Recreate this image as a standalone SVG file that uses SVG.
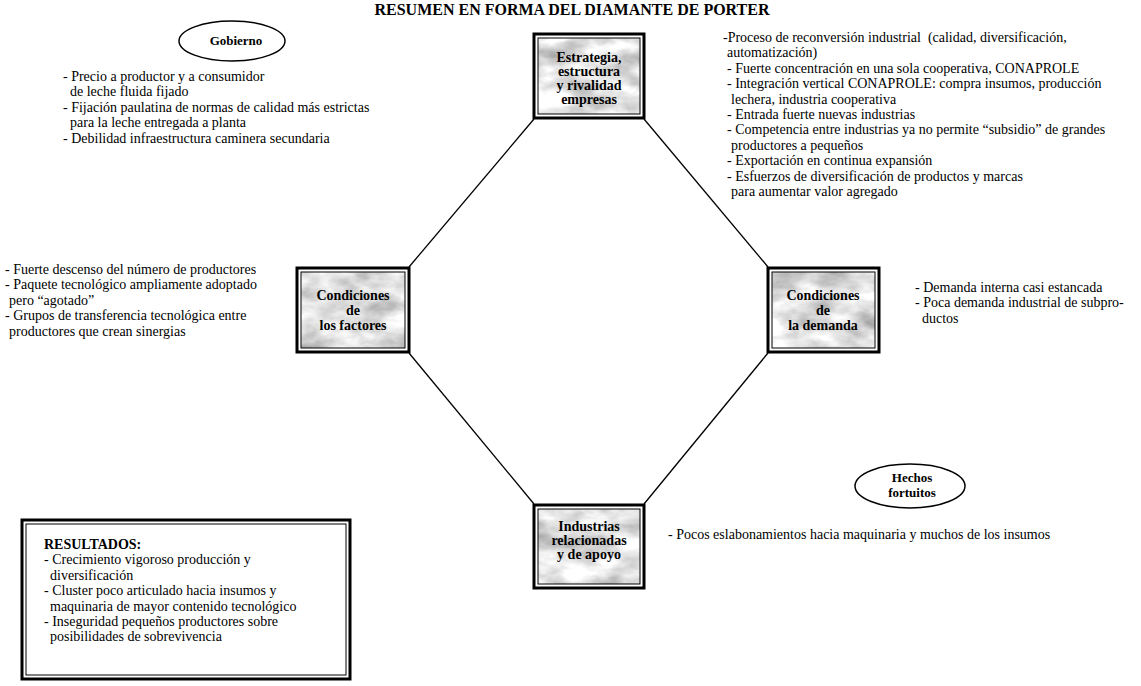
<svg xmlns="http://www.w3.org/2000/svg" width="1141" height="686" viewBox="0 0 1141 686">
  <style>
    .title { font: bold 16px "Liberation Serif", "Times New Roman", serif; fill: #000; }
    .body { font: 14px "Liberation Serif", "Times New Roman", serif; fill: #000; white-space: pre; }
    .head { font: bold 14px "Liberation Serif", "Times New Roman", serif; fill: #000; }
    .node { font: bold 14px "Liberation Serif", "Times New Roman", serif; fill: #000; text-anchor: middle; }
    .oval { font: bold 13px "Liberation Serif", "Times New Roman", serif; fill: #000; text-anchor: middle; }
    .frame { fill: #fff; stroke: #000; stroke-width: 3; }
    .inner { stroke: #000; stroke-width: 1; }
    .edge { stroke: #000; stroke-width: 1.3; fill: none; }
    .ell { fill: #fff; stroke: #000; stroke-width: 1.5; }
  </style>
  <defs>
    <!-- light grey marble texture used inside the diamond boxes -->
    <filter id="marble" x="0" y="0" width="1" height="1" color-interpolation-filters="sRGB">
      <feTurbulence type="fractalNoise" baseFrequency="0.025 0.045" numOctaves="4" seed="7" result="n"/>
      <feColorMatrix in="n" type="matrix" values="0.65 0 0 0 0.56  0.65 0 0 0 0.56  0.65 0 0 0 0.56  0 0 0 0 1" result="g"/>
      <feComposite in="g" in2="SourceGraphic" operator="in"/>
    </filter>
  </defs>

  <rect width="1141" height="686" fill="#fff"/>

  <text class="title" x="572" y="15" text-anchor="middle">RESUMEN EN FORMA DEL DIAMANTE DE PORTER</text>

  <!-- diamond connectors -->
  <g id="connectors">
    <line class="edge" x1="534" y1="119" x2="409" y2="267"/>
    <line class="edge" x1="644" y1="119" x2="768" y2="267"/>
    <line class="edge" x1="409" y1="353" x2="534" y2="504"/>
    <line class="edge" x1="768" y1="353" x2="644" y2="504"/>
  </g>

  <!-- top: strategy -->
  <g id="estrategia">
    <rect class="frame" x="534" y="34" width="110" height="84"/>
    <rect class="inner" x="538" y="38" width="102" height="76" fill="#eee" filter="url(#marble)"/>
    <rect class="inner" x="538" y="38" width="102" height="76" fill="none"/>
    <text class="node"><tspan x="589" y="62">Estrategia,</tspan><tspan x="589" y="76">estructura</tspan><tspan x="589" y="90">y rivalidad</tspan><tspan x="589" y="104">empresas</tspan></text>
  </g>

  <!-- left: factor conditions -->
  <g id="factores">
    <rect class="frame" x="297" y="268" width="112" height="84"/>
    <rect class="inner" x="301" y="272" width="104" height="76" fill="#eee" filter="url(#marble)"/>
    <rect class="inner" x="301" y="272" width="104" height="76" fill="none"/>
    <text class="node"><tspan x="353" y="300">Condiciones</tspan><tspan x="353" y="315">de</tspan><tspan x="353" y="330">los factores</tspan></text>
  </g>

  <!-- right: demand conditions -->
  <g id="demanda">
    <rect class="frame" x="768" y="268" width="111" height="84"/>
    <rect class="inner" x="772" y="272" width="103" height="76" fill="#eee" filter="url(#marble)"/>
    <rect class="inner" x="772" y="272" width="103" height="76" fill="none"/>
    <text class="node"><tspan x="823" y="300">Condiciones</tspan><tspan x="823" y="315">de</tspan><tspan x="823" y="330">la demanda</tspan></text>
  </g>

  <!-- bottom: related industries -->
  <g id="industrias">
    <rect class="frame" x="534" y="505" width="110" height="83"/>
    <rect class="inner" x="538" y="509" width="102" height="75" fill="#eee" filter="url(#marble)"/>
    <rect class="inner" x="538" y="509" width="102" height="75" fill="none"/>
    <text class="node"><tspan x="589" y="531">Industrias</tspan><tspan x="589" y="545">relacionadas</tspan><tspan x="589" y="559">y de apoyo</tspan></text>
  </g>

  <!-- government -->
  <g id="gobierno">
    <ellipse class="ell" cx="232" cy="41" rx="53" ry="20"/>
    <text class="oval" x="236" y="45">Gobierno</text>
  </g>
  <g id="gobierno-notas">
    <text class="body"><tspan x="63" y="81">- Precio a productor y a consumidor</tspan><tspan x="70" y="96.4">de leche fluida fijado</tspan><tspan x="63" y="111.8">- Fijación paulatina de normas de calidad más estrictas</tspan><tspan x="70" y="127.2">para la leche entregada a planta</tspan><tspan x="63" y="142.6">- Debilidad infraestructura caminera secundaria</tspan></text>
  </g>

  <!-- chance events -->
  <g id="hechos">
    <ellipse class="ell" cx="910" cy="486" rx="55" ry="22"/>
    <text class="oval"><tspan x="912" y="482">Hechos</tspan><tspan x="912" y="497">fortuitos</tspan></text>
  </g>

  <g id="estrategia-notas">
    <text class="body"><tspan x="723" y="42">-Proceso de reconversión industrial  (calidad, diversificación,</tspan><tspan x="727" y="57.4">automatización)</tspan><tspan x="727" y="72.8">- Fuerte concentración en una sola cooperativa, CONAPROLE</tspan><tspan x="727" y="88.2">- Integración vertical CONAPROLE: compra insumos, producción</tspan><tspan x="731" y="103.6">lechera, industria cooperativa</tspan><tspan x="727" y="119">- Entrada fuerte nuevas industrias</tspan><tspan x="727" y="134.4">- Competencia entre industrias ya no permite “subsidio” de grandes</tspan><tspan x="731" y="149.8">productores a pequeños</tspan><tspan x="727" y="165.2">- Exportación en continua expansión</tspan><tspan x="727" y="180.6">- Esfuerzos de diversificación de productos y marcas</tspan><tspan x="731" y="196">para aumentar valor agregado</tspan></text>
  </g>

  <g id="factores-notas">
    <text class="body"><tspan x="5" y="274">- Fuerte descenso del número de productores</tspan><tspan x="5" y="289.4">- Paquete tecnológico ampliamente adoptado</tspan><tspan x="9" y="304.8">pero “agotado”</tspan><tspan x="5" y="320.2">- Grupos de transferencia tecnológica entre</tspan><tspan x="9" y="335.6">productores que crean sinergias</tspan></text>
  </g>

  <g id="demanda-notas">
    <text class="body"><tspan x="915" y="292">- Demanda interna casi estancada</tspan><tspan x="915" y="307.4">- Poca demanda industrial de subpro-</tspan><tspan x="922" y="322.8">ductos</tspan></text>
  </g>

  <g id="industrias-notas">
    <text class="body" x="668" y="539">- Pocos eslabonamientos hacia maquinaria y muchos de los insumos</text>
  </g>

  <!-- results panel -->
  <g id="resultados">
    <rect class="frame" x="22" y="520" width="328" height="159"/>
    <rect class="inner" x="26" y="524" width="320" height="151" fill="none"/>
    <text class="head" x="44" y="549">RESULTADOS:</text>
    <text class="body"><tspan x="44" y="564.4">- Crecimiento vigoroso producción y</tspan><tspan x="50" y="579.8">diversificación</tspan><tspan x="44" y="595.2">- Cluster poco articulado hacia insumos y</tspan><tspan x="50" y="610.6">maquinaria de mayor contenido tecnológico</tspan><tspan x="44" y="626">- Inseguridad pequeños productores sobre</tspan><tspan x="50" y="641.4">posibilidades de sobrevivencia</tspan></text>
  </g>
</svg>
